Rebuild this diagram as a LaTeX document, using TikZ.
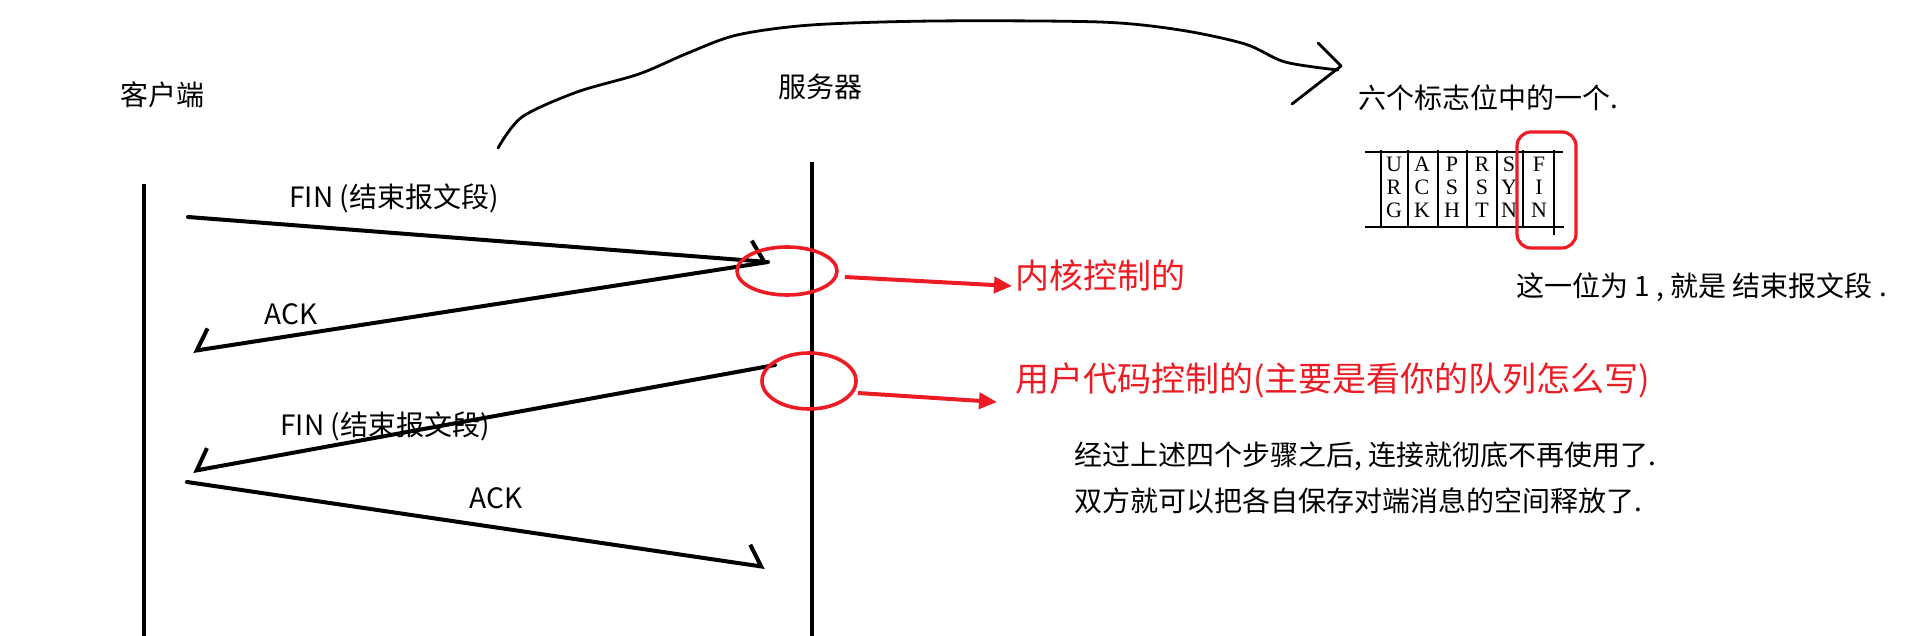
\documentclass[tikz,border=0pt]{standalone}
\usepackage{fontspec}
\newfontfamily\cjk{Noto Sans CJK SC}
\newfontfamily\flagserif{Liberation Serif}
\usepackage{tikz}
\usetikzlibrary{arrows.meta,shapes.geometric,positioning}
\definecolor{mark-red}{RGB}{237,28,36}

\begin{document}
\begin{tikzpicture}[x=0.5pt, y=-0.5pt,
    txt/.style={font=\cjk\fontsize{14}{23}\selectfont, inner sep=0pt},
    redtxt/.style={font=\cjk\fontsize{17}{20}\selectfont, text=mark-red, inner sep=0pt, anchor=west},
    flag/.style={font=\flagserif\fontsize{11}{11.5}\selectfont, align=center, inner sep=0pt},
    life/.style={line width=1.8pt},
    msgL/.style={line width=2pt, line cap=round, -{Straight Barb[left,length=7pt,width=20pt]}},
    msgR/.style={line width=2pt, line cap=round, -{Straight Barb[right,length=7pt,width=20pt]}},
    ring/.style={ellipse, draw=mark-red, line width=1.8pt, inner sep=0pt},
    redarrow/.style={mark-red, line width=2pt, -{Triangle[length=9pt,width=8pt]}}]

    \useasboundingbox (0,0) rectangle (1926,636);

    % Ends
    \node[txt] (client) at (162,95) {客户端};
    \node[txt] (server) at (820,87) {服务器};

    % Lifelines
    \coordinate (cTop) at (144,184);
    \coordinate (cBot) at (144,636);
    \coordinate (sTop) at (812,162);
    \coordinate (sBot) at (812,636);
    \draw[life] (cTop) -- (cBot);
    \draw[life] (sTop) -- (sBot);

    % Messages
    \coordinate (fin1C) at (188,217);
    \coordinate (fin1S) at (768,262);
    \coordinate (ack1C) at (193,351);
    \coordinate (fin2S) at (775,365);
    \coordinate (fin2C) at (193,471);
    \coordinate (ack2C) at (187,482);
    \coordinate (ack2S) at (765,567);

    \node[txt] (fin1) at (394,198) {FIN (结束报文段)};
    \node[txt] (ack1) at (291,314) {ACK};
    \node[txt] (fin2) at (385,426) {FIN (结束报文段)};
    \node[txt] (ack2) at (496,498) {ACK};

    \draw[msgL] (fin1C) -- (fin1S);
    \draw[msgR] (fin1S) -- (ack1C);
    \draw[msgR] (fin2S) -- (fin2C);
    \draw[msgL] (ack2C) -- (ack2S);

    % Kernel / user code
    \node[ring, minimum width=50pt, minimum height=24pt] (k1) at (787,271) {};
    \node[ring, minimum width=47pt, minimum height=28pt] (k2) at (809,381) {};
    \node[redtxt] (kern) at (1015,276) {内核控制的};
    \node[redtxt] (user) at (1015,380) {用户代码控制的(主要是看你的队列怎么写)};
    \draw[redarrow] ([xshift=3pt,yshift=-3pt]k1.east) -- ([xshift=-1.5pt,yshift=-5pt]kern.west);
    \draw[redarrow] ([yshift=-6pt]k2.east) -- ([xshift=-9pt,yshift=-11pt]user.west);

    % Flag bits
    \node[txt, anchor=west] (six) at (1358,98) {六个标志位中的一个.};
    \draw[line width=1.1pt] (1365,152) -- (1563,152);
    \draw[line width=1.1pt] (1365,227) -- (1564,227);
    \foreach \x in {1381,1408,1438,1467,1497,1523}
        \draw[line width=1.1pt] (\x,150) -- (\x,227);
    \draw[line width=1.1pt] (1554,150) -- (1554,235);
    \node[flag] (urg) at (1394,187) {U\\R\\G};
    \node[flag] (ack) at (1422,187) {A\\C\\K};
    \node[flag] (psh) at (1452,187) {P\\S\\H};
    \node[flag] (rst) at (1482,187) {R\\S\\T};
    \node[flag] (syn) at (1509,187) {S\\Y\\N};
    \node[flag] (fin) at (1539,187) {F\\I\\N};
    \draw[mark-red, line width=1.6pt, rounded corners=7pt] (1517,132) rectangle (1576,248);
    \node[txt, anchor=west] (one) at (1516,287) {这一位为 1 , 就是 结束报文段 .};

    % Summary
    \node[txt, anchor=west, align=left] (sum) at (1074,478) {经过上述四个步骤之后, 连接就彻底不再使用了.\\双方就可以把各自保存对端消息的空间释放了.};

    % Hand-drawn arrow to the flag
    \draw[line width=1.4pt, line cap=round, line join=round] plot[smooth, tension=0.5] coordinates {(498,148) (522,117) (577,92) (639,74) (688,53) (737,35) (811,25) (934,21) (1100,22) (1180,30) (1245,44) (1285,62) (1338,70)};
    \draw[line width=1.4pt, line cap=round, line join=round] (1318,43) -- (1341,66) -- (1292,104);
\end{tikzpicture}
\end{document}
